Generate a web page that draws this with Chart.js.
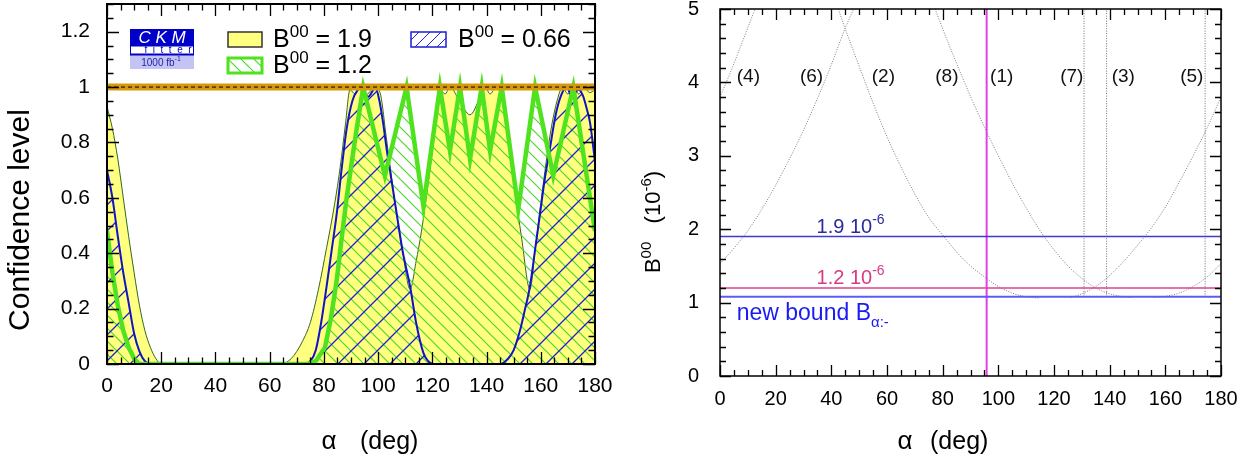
<!DOCTYPE html>
<html>
<head>
<meta charset="utf-8">
<script src="https://cdn.jsdelivr.net/npm/chart.js@4.4.0/dist/chart.umd.min.js"></script>
<style>
  body { margin: 0; background: #fff; }
  #wrapL { position: absolute; left: 0; top: 0; width: 620px; height: 461px; }
  #wrapR { position: absolute; left: 620px; top: 0; width: 636px; height: 461px; }
</style>
</head>
<body>
<div id="wrapL"><canvas id="left" width="620" height="461"></canvas></div>
<div id="wrapR"><canvas id="right" width="636" height="461"></canvas></div>
<script>
// ---- left panel: confidence level vs alpha ----
const yellowAlpha = [0,2,4,6,8,10,12,14,16,18,20, 64,68,72,75,78,81,84,86,88,89.6,91.5,93.5,96,98.5,100.7,103,105,107,109,111.8,114,116,118,120,121.5,122.8,124.7,126.5,130,133.9,137.5,139.5,141.3,143.5,145,147,150,153,156,158,160,162,164,166,168,170,172,174,176,178,180];
const yellowCL    = [0.93,0.85,0.74,0.60,0.46,0.33,0.21,0.12,0.06,0.02,0, 0,0.02,0.08,0.15,0.27,0.42,0.58,0.71,0.87,0.99,0.975,1.0,0.975,1.0,0.98,0.82,0.67,0.53,0.41,0.27,0.37,0.48,0.62,0.77,0.9,0.99,0.975,1.0,0.95,0.90,0.96,1.0,0.975,1.0,0.98,0.88,0.66,0.45,0.27,0.42,0.58,0.73,0.86,0.95,1.0,0.975,1.0,0.975,1.0,0.98,0.99];

const blueAlpha = [0,2,4,6,8,10,12,14,16, 73,75,77,79,81,83,84.7,86.5,88.4,90.5,92.5,93.9,95.2,96.4,97.6,98.9,100.5,102,103.1,105,106.9,109,111.8,114,116.7,118.5,120.4, 145,148,150,152.3,154,156,158,159.7,161.5,163.4,165.5,167.5,169.6,171.4,173.9,175.5,177,178.2,180];
const blueCL    = [0.70,0.60,0.46,0.33,0.22,0.11,0.045,0.01,0, 0,0.01,0.05,0.15,0.28,0.42,0.54,0.70,0.85,0.95,0.99,1.0,0.975,0.965,0.98,1.0,0.95,0.86,0.78,0.66,0.54,0.41,0.28,0.15,0.04,0.01,0, 0,0.02,0.05,0.12,0.19,0.28,0.42,0.54,0.67,0.78,0.90,0.97,1.0,0.965,0.99,0.97,0.92,0.87,0.73];

const greenAlpha = [0,2,4,6,8,10,12, 74,77,80.4,82.5,84.7,86.5,88.4,90.3,92.1,94.5, 102.5,110.5,116.7,122.8,126.5,130.2,133.9,138.2,141.3,145.6,151.7,157.9,164.6,172,180];
const greenCL    = [0.48,0.33,0.21,0.12,0.06,0.02,0, 0,0.01,0.06,0.16,0.30,0.45,0.60,0.73,0.85,1.0, 0.68,1.0,0.57,1.0,0.77,1.0,0.74,1.0,0.77,1.0,0.56,1.0,0.68,1.0,0.48];

const legendValues = ['1.9', '1.2', '0.66'];

// ---- right panel: B00 vs alpha for the 8 solutions ----
const curveAAlpha = [0,4,8,12.6];
const curveAB     = [3.8,4.16,4.55,5.0];
const curveBAlpha = [0,5,10,15,20,25,30,35,40,45,48];
const curveBB     = [1.53,1.74,1.98,2.27,2.6,2.96,3.35,3.78,4.24,4.74,5.0];
const curveCAlpha = [42.5,45,50,55,60,65,70,75,80,85,90,95,100,105,110,115];
const curveCB     = [5.0,4.73,4.22,3.72,3.26,2.85,2.48,2.16,1.92,1.69,1.5,1.35,1.22,1.13,1.08,1.06];
const curveDAlpha = [77.3,80,85,90,95,100,105,110,115,120,125,130,135,140,145,148];
const curveDB     = [5.0,4.73,4.26,3.81,3.39,3.0,2.63,2.29,1.98,1.72,1.5,1.33,1.2,1.12,1.08,1.07];
const curveEAlpha = [126,130,135,140,145,150,155,160,165,170,175,180];
const curveEB     = [1.07,1.12,1.22,1.37,1.56,1.78,2.02,2.3,2.64,3.0,3.38,3.8];
const curveGAlpha = [156,160,165,170,175,180];
const curveGB     = [1.07,1.085,1.13,1.22,1.35,1.53];
const vertAlpha   = [130.8,138.9,174.3];
const vertB       = [1.08,5];

const bound19 = 1.9, bound12 = 1.2, newBound = 1.08, alphaMeas = 95.8;
const solLabels = ['(4)','(6)','(2)','(8)','(1)','(7)','(3)','(5)'];
const solLabelAlpha = [10.2,32.9,58.7,81.5,101.2,126.4,144.9,169.5];
const solLabelB = 4.08;

const FONT = "'Liberation Sans', Arial, Helvetica, sans-serif";

function pts(xs, ys) { return xs.map((x, i) => ({ x: x, y: ys[i] })); }

function hatch(ctx, color, size, dir, width) {
  const c = document.createElement('canvas');
  c.width = size; c.height = size;
  const g = c.getContext('2d');
  g.strokeStyle = color; g.lineWidth = width;
  g.beginPath();
  if (dir === '/') {
    g.moveTo(-2, 2); g.lineTo(2, -2);
    g.moveTo(0, size); g.lineTo(size, 0);
    g.moveTo(size - 2, size + 2); g.lineTo(size + 2, size - 2);
  } else {
    g.moveTo(-2, size - 2); g.lineTo(2, size + 2);
    g.moveTo(0, 0); g.lineTo(size, size);
    g.moveTo(size - 2, -2); g.lineTo(size + 2, 2);
  }
  g.stroke();
  return ctx.createPattern(c, 'repeat');
}

function rich(ctx, x, y, parts, align) {
  ctx.textAlign = 'left';
  ctx.textBaseline = 'alphabetic';
  let w = 0;
  parts.forEach(p => { ctx.font = p.f; w += ctx.measureText(p.t).width; });
  let cx = align === 'center' ? x - w / 2 : (align === 'right' ? x - w : x);
  parts.forEach(p => {
    ctx.font = p.f;
    ctx.fillStyle = p.c || '#000';
    ctx.fillText(p.t, cx, y + (p.dy || 0));
    cx += ctx.measureText(p.t).width;
  });
}

// inward ticks on all four sides plus the frame
function drawFrame(chart, o) {
  const ctx = chart.ctx, a = chart.chartArea, xs = chart.scales.x, ys = chart.scales.y;
  ctx.save();
  ctx.strokeStyle = '#000';
  ctx.lineWidth = 1.3;
  ctx.beginPath();
  const nx = Math.round((xs.max - xs.min) / o.xMinor);
  for (let i = 0; i <= nx; i++) {
    const v = xs.min + i * o.xMinor;
    const major = Math.abs(v / o.xMajor - Math.round(v / o.xMajor)) < 1e-6;
    const L = major ? o.maj : o.min;
    const px = Math.round(xs.getPixelForValue(v)) + 0.5;
    ctx.moveTo(px, a.bottom); ctx.lineTo(px, a.bottom - L);
    ctx.moveTo(px, a.top); ctx.lineTo(px, a.top + L);
  }
  const ny = Math.round((ys.max - ys.min) / o.yMinor);
  for (let i = 0; i <= ny; i++) {
    const v = ys.min + i * o.yMinor;
    const major = Math.abs(v / o.yMajor - Math.round(v / o.yMajor)) < 1e-6;
    const L = major ? o.maj : o.min;
    const py = Math.round(ys.getPixelForValue(v)) + 0.5;
    ctx.moveTo(a.left, py); ctx.lineTo(a.left + L, py);
    ctx.moveTo(a.right, py); ctx.lineTo(a.right - L, py);
  }
  ctx.stroke();
  ctx.lineWidth = o.frame;
  ctx.strokeRect(a.left, a.top, a.right - a.left, a.bottom - a.top);
  ctx.restore();
}

function fitX(h) { return s => { s.height = h; s.paddingLeft = 0; s.paddingRight = 0; }; }
function fitY(w) { return s => { s.width = w; s.paddingTop = 0; s.paddingBottom = 0; }; }

// ================= LEFT =================
const lctx = document.getElementById('left').getContext('2d');
const blueHatch = hatch(lctx, '#1e1ed2', 26, '/', 1.3);
const greenHatch = hatch(lctx, '#4fd62c', 13, '\\', 1.2);

const leftDecor = {
  id: 'leftDecor',
  afterDatasetsDraw(chart) {
    drawFrame(chart, { xMajor: 20, xMinor: 5, yMajor: 0.2, yMinor: 0.05, maj: 12, min: 6.5, frame: 2 });
    const ctx = chart.ctx;
    ctx.save();
    // CKMfitter logo
    ctx.fillStyle = '#0000c8'; ctx.fillRect(130, 29, 64, 17);
    ctx.fillStyle = '#fff'; ctx.fillRect(130, 46, 64, 8);
    ctx.strokeStyle = '#0000c8'; ctx.lineWidth = 1; ctx.strokeRect(130.5, 46, 63, 8);
    ctx.fillStyle = '#c4c4f4'; ctx.fillRect(130, 55, 64, 14);
    ctx.fillStyle = '#0000c8'; ctx.fillRect(130, 54, 64, 1.5);
    ctx.fillStyle = '#fff'; ctx.font = 'italic 17px ' + FONT; ctx.textAlign = 'center'; ctx.textBaseline = 'alphabetic';
    ctx.fillText('C K M', 162, 43);
    ctx.fillStyle = '#0000c8'; ctx.font = '10px ' + FONT;
    ctx.fillText('f  i  t  t  e  r', 168, 53);
    rich(ctx, 161, 66, [{ t: '1000 fb', f: '10px ' + FONT, c: '#1f1fa8' }, { t: '-1', f: '7px ' + FONT, c: '#1f1fa8', dy: -5 }], 'center');

    // legend boxes
    ctx.fillStyle = '#ffff80'; ctx.fillRect(228, 32, 34, 15);
    ctx.strokeStyle = '#333'; ctx.lineWidth = 1.5; ctx.strokeRect(228, 32, 34, 15);
    ctx.fillStyle = '#fff'; ctx.fillRect(228, 58, 34, 15);
    ctx.fillStyle = greenHatch; ctx.fillRect(228, 58, 34, 15);
    ctx.strokeStyle = '#4fe21e'; ctx.lineWidth = 3; ctx.strokeRect(228, 58, 34, 15);
    ctx.fillStyle = '#fff'; ctx.fillRect(411, 32, 35, 15);
    ctx.fillStyle = hatch(ctx, '#1e1ed2', 11, '/', 1); ctx.fillRect(411, 32, 35, 15);
    ctx.strokeStyle = '#1e1ed2'; ctx.lineWidth = 1.5; ctx.strokeRect(411, 32, 35, 15);

    const big = '25px ' + FONT, sup = '17px ' + FONT;
    const entry = (x, y, v) => rich(ctx, x, y, [{ t: 'B', f: big }, { t: '00', f: sup, dy: -10 }, { t: ' = ' + v, f: big }], 'left');
    entry(273, 47, legendValues[0]);
    entry(273, 73, legendValues[1]);
    entry(458, 47, legendValues[2]);

    // axis titles
    ctx.fillStyle = '#000';
    ctx.textAlign = 'center'; ctx.textBaseline = 'middle';
    ctx.save();
    ctx.translate(21, 220); ctx.rotate(-Math.PI / 2);
    ctx.font = '30px ' + FONT;
    ctx.fillText('Confidence level', 0, 0);
    ctx.restore();
    ctx.textBaseline = 'alphabetic';
    ctx.font = '26px ' + FONT; ctx.fillText('α', 329, 449);
    ctx.textAlign = 'left'; ctx.font = '25px ' + FONT; ctx.fillText('(deg)', 360, 449);
    ctx.restore();
  }
};

new Chart(lctx, {
  type: 'line',
  data: {
    datasets: [
      { data: pts([0, 180], [1, 1]), borderColor: '#000', borderWidth: 1, borderDash: [4, 3], fill: false },
      { data: pts([0, 180], [1, 1]), borderColor: '#d6990b', borderWidth: 7, fill: false },
      { data: pts(greenAlpha, greenCL), borderColor: '#4fe21e', borderWidth: 4.5, fill: false, tension: 0 },
      { data: pts(blueAlpha, blueCL), borderColor: '#1212c8', borderWidth: 2, fill: 'origin', backgroundColor: blueHatch, cubicInterpolationMode: 'monotone' },
      { data: pts(greenAlpha, greenCL), borderColor: 'rgba(0,0,0,0)', borderWidth: 0, fill: 'origin', backgroundColor: greenHatch, tension: 0 },
      { data: pts(yellowAlpha, yellowCL), borderColor: '#35661c', borderWidth: 1, fill: 'origin', backgroundColor: '#ffff80', cubicInterpolationMode: 'monotone' }
    ]
  },
  options: {
    responsive: false, animation: false, devicePixelRatio: 1,
    layout: { padding: { left: 0, right: 25, top: 4, bottom: 0 } },
    plugins: { legend: { display: false }, tooltip: { enabled: false } },
    elements: { point: { radius: 0 } },
    scales: {
      x: {
        type: 'linear', min: 0, max: 180,
        grid: { display: false }, border: { display: false },
        ticks: { stepSize: 20, autoSkip: false, maxRotation: 0, color: '#000', padding: 2, font: { family: FONT, size: 21 } },
        afterFit: fitX(97)
      },
      y: {
        type: 'linear', min: 0, max: 1.3,
        grid: { display: false }, border: { display: false },
        ticks: { stepSize: 0.2, includeBounds: false, color: '#000', padding: 9, font: { family: FONT, size: 21 },
                 callback: v => String(Math.round(v * 10) / 10) },
        afterFit: fitY(107)
      }
    }
  },
  plugins: [leftDecor]
});

// ================= RIGHT =================
const rctx = document.getElementById('right').getContext('2d');
const grey = { borderColor: '#7c7c7c', borderWidth: 1, borderDash: [1, 1.5], fill: false, cubicInterpolationMode: 'monotone' };

const rightDecor = {
  id: 'rightDecor',
  afterDatasetsDraw(chart) {
    drawFrame(chart, { xMajor: 20, xMinor: 5, yMajor: 1, yMinor: 0.2, maj: 11, min: 6, frame: 1.5 });
    const ctx = chart.ctx, xs = chart.scales.x, ys = chart.scales.y;
    ctx.save();
    ctx.fillStyle = '#111'; ctx.font = '19px ' + FONT;
    ctx.textAlign = 'center'; ctx.textBaseline = 'middle';
    solLabels.forEach((s, i) => ctx.fillText(s, xs.getPixelForValue(solLabelAlpha[i]), ys.getPixelForValue(solLabelB)));

    const f20 = '20px ' + FONT, f14 = '14px ' + FONT;
    rich(ctx, xs.getPixelForValue(34.7), ys.getPixelForValue(1.95),
      [{ t: '1.9 10', f: f20, c: '#2b2b9b' }, { t: '-6', f: f14, c: '#2b2b9b', dy: -9 }], 'left');
    rich(ctx, xs.getPixelForValue(34.7), ys.getPixelForValue(1.25),
      [{ t: '1.2 10', f: f20, c: '#d63a86' }, { t: '-6', f: f14, c: '#d63a86', dy: -9 }], 'left');
    rich(ctx, xs.getPixelForValue(6.0), ys.getPixelForValue(0.76),
      [{ t: 'new bound B', f: '23px ' + FONT, c: '#1a1af5' }, { t: 'α:-', f: '15px ' + FONT, c: '#1a1af5', dy: 7 }], 'left');

    // axis titles
    ctx.save();
    ctx.translate(32, 222); ctx.rotate(-Math.PI / 2);
    rich(ctx, 0, 8, [{ t: 'B', f: '22px ' + FONT }, { t: '00', f: '15px ' + FONT, dy: -9 }, { t: '   (10', f: '22px ' + FONT }, { t: '-6', f: '15px ' + FONT, dy: -9 }, { t: ')', f: '22px ' + FONT }], 'center');
    ctx.restore();
    ctx.fillStyle = '#000'; ctx.textBaseline = 'alphabetic';
    ctx.textAlign = 'center'; ctx.font = '26px ' + FONT; ctx.fillText('α', 285, 449);
    ctx.textAlign = 'left'; ctx.font = '25px ' + FONT; ctx.fillText('(deg)', 310, 449);
    ctx.restore();
  }
};

const vertSets = vertAlpha.map(a => Object.assign({ data: pts([a, a], vertB) }, grey, { borderColor: '#6e6e6e' }));

new Chart(rctx, {
  type: 'line',
  data: {
    datasets: [
      { data: pts([0, 180], [bound19, bound19]), borderColor: '#3c3cd2', borderWidth: 1.5, fill: false },
      { data: pts([0, 180], [bound12, bound12]), borderColor: '#e0408c', borderWidth: 1.5, fill: false },
      { data: pts([0, 180], [newBound, newBound]), borderColor: '#5c5cf2', borderWidth: 2, fill: false },
      { data: pts([alphaMeas, alphaMeas], [0, 5]), borderColor: '#e040e6', borderWidth: 2, fill: false },
      Object.assign({ data: pts(curveAAlpha, curveAB) }, grey),
      Object.assign({ data: pts(curveBAlpha, curveBB) }, grey),
      Object.assign({ data: pts(curveCAlpha, curveCB) }, grey),
      Object.assign({ data: pts(curveDAlpha, curveDB) }, grey),
      Object.assign({ data: pts(curveEAlpha, curveEB) }, grey),
      Object.assign({ data: pts(curveGAlpha, curveGB) }, grey)
    ].concat(vertSets)
  },
  options: {
    responsive: false, animation: false, devicePixelRatio: 1,
    layout: { padding: { left: 0, right: 35, top: 9, bottom: 0 } },
    plugins: { legend: { display: false }, tooltip: { enabled: false } },
    elements: { point: { radius: 0 } },
    scales: {
      x: {
        type: 'linear', min: 0, max: 180,
        grid: { display: false }, border: { display: false },
        ticks: { stepSize: 20, autoSkip: false, maxRotation: 0, color: '#000', padding: 3, font: { family: FONT, size: 20 } },
        afterFit: fitX(85)
      },
      y: {
        type: 'linear', min: 0, max: 5,
        grid: { display: false }, border: { display: false },
        ticks: { stepSize: 1, color: '#000', padding: 13, font: { family: FONT, size: 20 } },
        afterFit: fitY(100)
      }
    }
  },
  plugins: [rightDecor]
});
</script>
</body>
</html>
